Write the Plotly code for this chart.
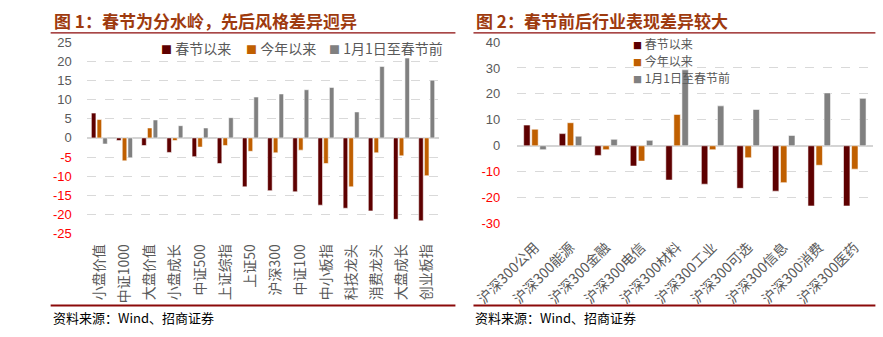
import plotly.graph_objects as go

W, H = 883, 337

# ---------------- data ----------------
cats1 = ["小盘价值", "中证1000", "大盘价值", "小盘成长", "中证500", "上证综指", "上证50",
         "沪深300", "中证100", "中小板指", "科技龙头", "消费龙头", "大盘成长", "创业板指"]
since_cny1 = [6.5, -0.7, -2.0, -3.8, -4.9, -6.7, -12.8, -13.8, -14.1, -17.6, -18.4, -19.1, -21.3, -21.7]
ytd1 = [4.8, -6.0, 2.6, -0.7, -2.4, -2.0, -3.5, -3.9, -3.2, -6.7, -12.8, -3.9, -4.7, -9.9]
pre_cny1 = [-1.6, -5.2, 4.7, 3.2, 2.6, 5.3, 10.7, 11.5, 12.6, 13.2, 6.8, 18.7, 20.9, 15.1]

cats2 = ["沪深300公用", "沪深300能源", "沪深300金融", "沪深300电信", "沪深300材料",
         "沪深300工业", "沪深300可选", "沪深300信息", "沪深300消费", "沪深300医药"]
since_cny2 = [8.0, 4.7, -3.7, -7.8, -13.2, -14.8, -16.4, -17.5, -23.2, -23.2]
ytd2 = [6.4, 8.9, -1.5, -5.9, 12.1, -1.5, -4.6, -14.2, -7.5, -9.0]
pre_cny2 = [-1.5, 3.7, 2.5, 2.1, 29.3, 15.4, 14.0, 4.0, 20.4, 18.3]

series_names = ["春节以来", "今年以来", "1月1日至春节前"]
colors = ["#5E0000", "#C05F00", "#808080"]

yticks1 = [25, 20, 15, 10, 5, 0, -5, -10, -15, -20, -25]
yticks2 = [40, 30, 20, 10, 0, -10, -20, -30]

FONT = "Liberation Sans, Arial, Noto Sans CJK SC"
CJK = "Noto Sans CJK SC, Liberation Sans"
TITLE_COLOR = "#9E3A0E"
LINE_COLOR = "#8B0A0A"


def px_x(p):
    return p / W


def px_y(p):
    return 1 - p / H


def tick_text(v):
    s = str(v)
    if v < 0:
        return '<span style="color:#FF0000">%s</span>' % s
    return s


fig = go.Figure()

bar_line = dict(color="rgba(255,255,255,0.7)", width=0.8)
for vals, name, col in zip([since_cny1, ytd1, pre_cny1], series_names, colors):
    fig.add_trace(go.Bar(x=cats1, y=vals, name=name, marker=dict(color=col, line=bar_line),
                         xaxis="x", yaxis="y", showlegend=False))
for vals, name, col in zip([since_cny2, ytd2, pre_cny2], series_names, colors):
    fig.add_trace(go.Bar(x=cats2, y=vals, name=name, marker=dict(color=col, line=bar_line),
                         xaxis="x2", yaxis="y2", showlegend=False))

common_y = dict(showgrid=True, gridcolor="#D9D9D9", griddash="dash", gridwidth=1,
                zeroline=True, zerolinecolor="#D4D4D4", zerolinewidth=2,
                showline=False, ticks="", tickfont=dict(family=FONT, size=13, color="#595959"))
common_x = dict(showgrid=False, showline=False, ticks="", type="category",
                tickfont=dict(family=CJK, size=14, color="#595959"))

fig.update_layout(
    width=W, height=H,
    margin=dict(l=0, r=0, t=0, b=0),
    paper_bgcolor="white", plot_bgcolor="white",
    barmode="group", bargap=0.32, bargroupgap=0.2,
    showlegend=False,
    xaxis=dict(domain=[px_x(45), px_x(416)], anchor="y", tickangle=-90, ticklabelstandoff=7, **common_x),
    yaxis=dict(domain=[px_y(237), px_y(37)], anchor="x", range=[-25, 25],
               tickvals=yticks1, ticktext=[tick_text(v) for v in yticks1], ticklabelstandoff=14, **common_y),
    xaxis2=dict(domain=[px_x(498), px_x(872)], anchor="y2", tickangle=-45, ticklabelstandoff=12, **common_x),
    yaxis2=dict(domain=[px_y(226.7), px_y(36.7)], anchor="x2", range=[-30, 40],
                tickvals=yticks2, ticktext=[tick_text(v) for v in yticks2], ticklabelstandoff=16, **common_y),
)

shapes = []
annotations = []

# titles, rules and source notes
for x0, x1, title in [(7, 433, "图 1：春节为分水岭，先后风格差异迥异"),
                      (452, 875, "图 2：春节前后行业表现差异较大")]:
    shapes.append(dict(type="line", xref="paper", yref="paper", x0=px_x(x0), x1=px_x(x1),
                       y0=px_y(27), y1=px_y(27), line=dict(color=LINE_COLOR, width=1.2)))
    shapes.append(dict(type="line", xref="paper", yref="paper", x0=px_x(x0), x1=px_x(x1),
                       y0=px_y(312.5), y1=px_y(312.5), line=dict(color=LINE_COLOR, width=2)))
    annotations.append(dict(xref="paper", yref="paper", x=px_x(x0 + 1), y=px_y(14), xanchor="left", yanchor="middle",
                            text="<b>%s</b>" % title, showarrow=False,
                            font=dict(family=CJK, size=17, color=TITLE_COLOR)))
    annotations.append(dict(xref="paper", yref="paper", x=px_x(x0), y=px_y(325), xanchor="left", yanchor="middle",
                            text="资料来源：Wind、招商证券", showarrow=False,
                            font=dict(family=CJK, size=13, color="#000000")))


# legends (manual, to match the small square markers)
def legend_item(x, y, name, col, size):
    return dict(xref="paper", yref="paper", x=px_x(x), y=px_y(y), xanchor="left", yanchor="middle",
                text='<span style="color:%s;font-size:%dpx">■</span> %s' % (col, size - 3, name),
                showarrow=False, font=dict(family=CJK, size=size, color="#595959"))


for x, name, col in zip([121, 210, 298], series_names, colors):
    annotations.append(legend_item(x, 43, name, col, 14))
for y, name, col in zip([38, 56, 74], series_names, colors):
    annotations.append(legend_item(618, y, name, col, 12))

fig.update_layout(shapes=shapes, annotations=annotations)

fig.write_html("out.html")
